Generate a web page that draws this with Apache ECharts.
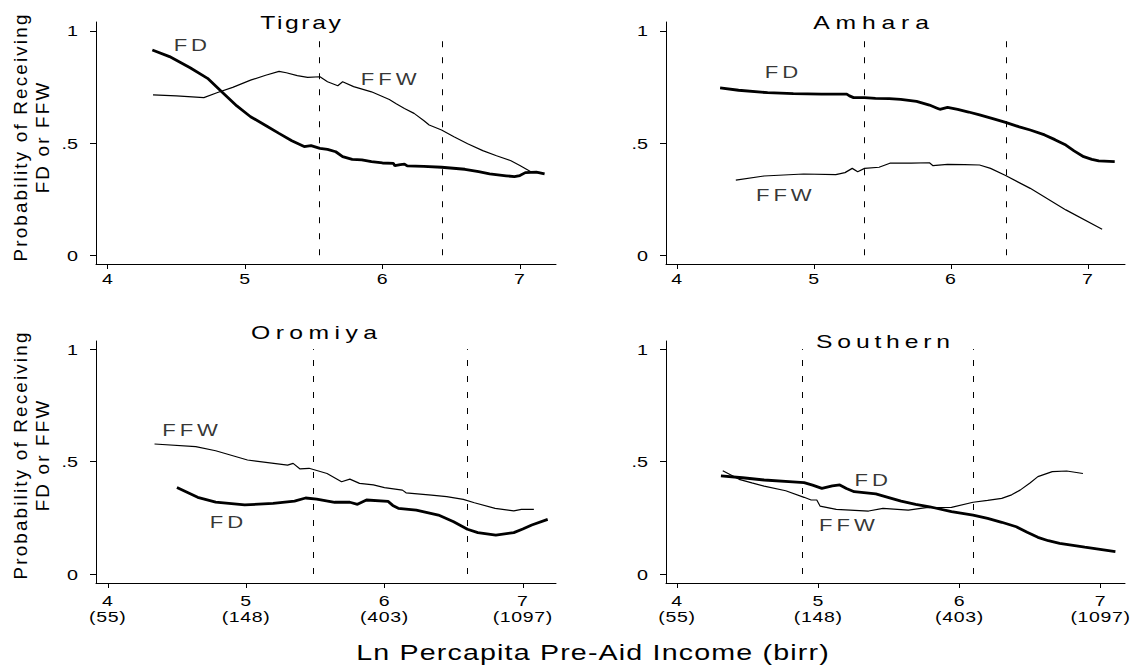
<!DOCTYPE html>
<html>
<head>
<meta charset="utf-8">
<script src="https://cdn.jsdelivr.net/npm/echarts@6.0.0/dist/echarts.min.js"></script>
<style>
html,body{margin:0;padding:0;background:#fff}
#c{width:1133px;height:666px}
#c text[style*="19px"]{letter-spacing:4px}
#c text[style*="18.8px"]{letter-spacing:2.2px}
#c text[style*="22px"]{letter-spacing:0.9px}
#c text[style*="17px"]{letter-spacing:3px}
#c text[style*="15px"]{letter-spacing:0.5px}
#c text[style*="15.2px"]{letter-spacing:0px}
</style>
</head>
<body>
<div id="c"></div>
<script>
// ---------------- data ----------------
const regions = ['Tigray', 'Amhara', 'Oromiya', 'Southern'];
const xTicks = [4, 5, 6, 7];
const xTickBirr = ['(55)', '(148)', '(403)', '(1097)'];
const yTicks = [0, 0.5, 1];
const yTickText = ['0', '.5', '1'];

const tigrayFD = [[4.325,0.914],[4.45,0.885],[4.6,0.835],[4.727,0.788],[4.83,0.728],[4.94,0.665],[5.04,0.617],[5.15,0.578],[5.247,0.543],[5.34,0.51],[5.43,0.484],[5.48,0.488],[5.545,0.476],[5.6,0.472],[5.66,0.461],[5.71,0.439],[5.78,0.427],[5.85,0.425],[5.92,0.417],[6.0,0.411],[6.08,0.409],[6.09,0.399],[6.13,0.404],[6.16,0.406],[6.18,0.398],[6.3,0.396],[6.43,0.392],[6.6,0.383],[6.7,0.372],[6.78,0.362],[6.9,0.354],[6.96,0.35],[7.0,0.355],[7.04,0.368],[7.12,0.37],[7.18,0.362]];
const tigrayFFW = [[4.33,0.714],[4.5,0.71],[4.70,0.702],[4.8,0.725],[4.91,0.748],[5.04,0.780],[5.15,0.802],[5.247,0.819],[5.30,0.813],[5.38,0.80],[5.455,0.792],[5.545,0.795],[5.6,0.773],[5.675,0.755],[5.71,0.773],[5.79,0.751],[5.92,0.728],[6.05,0.694],[6.1,0.675],[6.16,0.654],[6.23,0.632],[6.3,0.6],[6.34,0.58],[6.43,0.558],[6.52,0.528],[6.62,0.497],[6.73,0.466],[6.83,0.443],[6.935,0.421],[7.0,0.4],[7.08,0.372],[7.17,0.365]];
const amharaFD = [[4.315,0.746],[4.45,0.735],[4.662,0.724],[4.85,0.72],[5.056,0.718],[5.24,0.718],[5.26,0.71],[5.29,0.702],[5.37,0.702],[5.45,0.699],[5.55,0.698],[5.634,0.694],[5.75,0.685],[5.844,0.669],[5.9,0.655],[5.92,0.65],[5.976,0.659],[6.05,0.65],[6.13,0.638],[6.21,0.625],[6.30,0.61],[6.40,0.592],[6.50,0.572],[6.58,0.558],[6.685,0.536],[6.76,0.515],[6.84,0.491],[6.9,0.465],[6.97,0.439],[7.03,0.427],[7.08,0.42],[7.197,0.417]];
const amharaFFW = [[4.43,0.335],[4.635,0.353],[4.925,0.362],[5.16,0.359],[5.227,0.368],[5.28,0.387],[5.32,0.372],[5.37,0.387],[5.476,0.392],[5.555,0.41],[5.71,0.41],[5.844,0.412],[5.87,0.399],[5.976,0.405],[6.1,0.404],[6.21,0.402],[6.29,0.387],[6.40,0.355],[6.58,0.298],[6.84,0.202],[7.105,0.116]];
const oromiyaFD = [[4.5,0.385],[4.65,0.341],[4.78,0.32],[4.99,0.307],[5.195,0.314],[5.35,0.324],[5.43,0.338],[5.51,0.333],[5.64,0.319],[5.75,0.319],[5.805,0.31],[5.87,0.329],[6.026,0.323],[6.06,0.305],[6.1,0.292],[6.23,0.284],[6.39,0.262],[6.5,0.232],[6.6,0.199],[6.675,0.184],[6.805,0.173],[6.935,0.184],[7.0,0.2],[7.065,0.218],[7.18,0.243]];
const oromiyaFFW = [[4.338,0.578],[4.636,0.566],[4.78,0.548],[5.01,0.507],[5.30,0.484],[5.34,0.492],[5.39,0.467],[5.455,0.470],[5.585,0.447],[5.69,0.41],[5.75,0.422],[5.82,0.403],[5.92,0.396],[6.0,0.384],[6.13,0.373],[6.156,0.361],[6.34,0.351],[6.45,0.344],[6.57,0.332],[6.65,0.317],[6.8,0.292],[6.935,0.281],[6.99,0.287],[7.08,0.287]];
const southernFD = [[4.311,0.436],[4.464,0.428],[4.617,0.418],[4.82,0.41],[4.9,0.406],[4.96,0.395],[5.026,0.381],[5.1,0.392],[5.153,0.396],[5.2,0.38],[5.255,0.366],[5.408,0.356],[5.5,0.34],[5.587,0.324],[5.69,0.31],[5.79,0.299],[5.944,0.277],[6.097,0.262],[6.2,0.247],[6.3,0.23],[6.403,0.21],[6.48,0.186],[6.556,0.163],[6.63,0.148],[6.71,0.136],[6.888,0.119],[7.105,0.099]];
const southernFFW = [[4.324,0.459],[4.44,0.421],[4.53,0.405],[4.617,0.391],[4.77,0.37],[4.9,0.341],[4.95,0.329],[4.99,0.329],[5.013,0.302],[5.128,0.287],[5.357,0.28],[5.459,0.292],[5.638,0.284],[5.765,0.295],[5.944,0.296],[6.097,0.319],[6.2,0.327],[6.3,0.336],[6.37,0.352],[6.43,0.373],[6.5,0.405],[6.556,0.433],[6.658,0.455],[6.76,0.458],[6.875,0.447]];

// cut-off (dashed) lines: x positions and top value
const tigrayCut = [5.538, 6.432];
const amharaCut = [5.371, 6.403];
const oromiyaCut = [5.485, 6.595];
const southernCut = [4.885, 6.10];
const cutTop = [0.965, 0.96, 1.0, 1.0];

// in-plot labels [text, x, y]
const tigrayLabels = [['FD', 4.601, 0.934], ['FFW', 6.045, 0.782]];
const amharaLabels = [['FD', 4.763, 0.816], ['FFW', 4.78, 0.268]];
const oromiyaLabels = [['FFW', 4.595, 0.64], ['FD', 4.858, 0.230]];
const southernLabels = [['FD', 5.375, 0.4156], ['FFW', 5.203, 0.2156]];

// axis ranges per panel
const xRanges = [[3.915, 7.263], [3.92, 7.272], [3.915, 7.24], [3.922, 7.173]];
const yRangeTop = [-0.039, 1.039];
const yRangeBottom = [-0.04, 1.036];

// ---------------- layout / style ----------------
const FONT = '"Liberation Sans", Arial, Helvetica, sans-serif';
const STRETCH = 1.3;
const grids = [
  {left: 96, top: 22, width: 460, height: 242},
  {left: 666, top: 22, width: 459, height: 242},
  {left: 96, top: 341, width: 460, height: 242},
  {left: 666, top: 341, width: 459, height: 242}
];
const titlePos = [[300.5, 22], [871, 22], [314, 332], [883, 341]];
const titleSpacing = {Tigray: 2, Amhara: 4.5, Oromiya: 4.2, Southern: 3.7};
const noStretch = {'Probability of Receiving': 1, 'FD or FFW': 1};

const fdData = [tigrayFD, amharaFD, oromiyaFD, southernFD];
const ffwData = [tigrayFFW, amharaFFW, oromiyaFFW, southernFFW];
const cuts = [tigrayCut, amharaCut, oromiyaCut, southernCut];
const labelsAll = [tigrayLabels, amharaLabels, oromiyaLabels, southernLabels];

const xAxes = [], yAxes = [], series = [];
for (let i = 0; i < 4; i++) {
  const bottom = i >= 2;
  const yr = bottom ? yRangeBottom : yRangeTop;
  xAxes.push({
    type: 'value', gridIndex: i, min: xRanges[i][0], max: xRanges[i][1],
    splitLine: {show: false},
    axisLine: {show: true, onZero: false, lineStyle: {color: '#000', width: 1}},
    axisTick: {show: true, customValues: xTicks, length: 5, lineStyle: {color: '#000', width: 1}},
    axisLabel: {
      show: true, customValues: xTicks, color: '#000', fontSize: 15, fontFamily: FONT,
      lineHeight: 16, margin: bottom ? 9 : 6,
      formatter: function (v) {
        const k = xTicks.indexOf(Math.round(v));
        return bottom ? (xTicks[k] + '\n' + xTickBirr[k]) : String(xTicks[k]);
      }
    }
  });
  yAxes.push({
    type: 'value', gridIndex: i, min: yr[0], max: yr[1],
    splitLine: {show: false},
    axisLine: {show: true, onZero: false, lineStyle: {color: '#000', width: 1}},
    axisTick: {show: true, customValues: yTicks, length: 6, lineStyle: {color: '#000', width: 1}},
    axisLabel: {
      show: true, customValues: yTicks, color: '#000', fontSize: 15.2, fontFamily: FONT, margin: 18,
      formatter: function (v) {
        let k = 0;
        yTicks.forEach(function (t, j) { if (Math.abs(t - v) < 1e-6) k = j; });
        return yTickText[k];
      }
    }
  });
  series.push({
    type: 'line', xAxisIndex: i, yAxisIndex: i, data: fdData[i],
    symbol: 'none', showSymbol: false, smooth: false, silent: true,
    lineStyle: {color: '#000', width: 2.8}, z: 3,
    markLine: {
      silent: true, symbol: ['none', 'none'], label: {show: false},
      lineStyle: {color: '#000', width: 1, type: [6, 10]},
      data: cuts[i].map(function (c) { return [{coord: [c, 0]}, {coord: [c, cutTop[i]]}]; })
    }
  });
  series.push({
    type: 'line', xAxisIndex: i, yAxisIndex: i, data: ffwData[i],
    symbol: 'none', showSymbol: false, smooth: false, silent: true,
    lineStyle: {color: '#000', width: 1.2}, z: 3
  });
  series.push({
    type: 'scatter', xAxisIndex: i, yAxisIndex: i, silent: true,
    symbolSize: 1, itemStyle: {color: 'rgba(0,0,0,0)'},
    data: labelsAll[i].map(function (l) { return {name: l[0], value: [l[1], l[2]]}; }),
    label: {show: true, position: 'inside', formatter: '{b}', color: '#000',
            fontSize: 17, fontFamily: FONT, offset: [2, 0]},
    z: 4
  });
}

const graphics = [];
regions.forEach(function (r, i) {
  graphics.push({
    type: 'text', x: titlePos[i][0] + titleSpacing[r] * STRETCH / 2, y: titlePos[i][1], silent: true,
    style: {text: r, fill: '#000', fontSize: 19, fontFamily: FONT,
            align: 'center', verticalAlign: 'middle', textAlign: 'center', textVerticalAlign: 'middle'}
  });
});
[137, 455].forEach(function (yc) {
  graphics.push({
    type: 'text', x: 31, y: yc, rotation: Math.PI / 2, silent: true,
    style: {text: 'Probability of Receiving\nFD or FFW', fill: '#000', fontSize: 18.8, lineHeight: 22,
            fontFamily: FONT, align: 'center', verticalAlign: 'middle',
            textAlign: 'center', textVerticalAlign: 'middle'}
  });
});
graphics.push({
  type: 'text', x: 593, y: 652, silent: true,
  style: {text: 'Ln Percapita Pre-Aid Income (birr)', fill: '#000', fontSize: 22, fontFamily: FONT,
          align: 'center', verticalAlign: 'middle', textAlign: 'center', textVerticalAlign: 'middle'}
});

const dom = document.getElementById('c');
const chart = echarts.init(dom, null, {renderer: 'svg'});
chart.setOption({
  backgroundColor: '#fff',
  animation: false,
  grid: grids,
  xAxis: xAxes,
  yAxis: yAxes,
  series: series,
  graphic: graphics
});

// widen glyphs horizontally (the reference's lettering is horizontally stretched)
function refine() {
  dom.querySelectorAll('text').forEach(function (t) {
    if (t.getAttribute('data-wide')) return;
    const txt = t.textContent;
    const sp = titleSpacing[txt];
    if (sp != null) t.style.letterSpacing = sp + 'px';
    if (noStretch[txt]) { t.setAttribute('data-wide', '1'); return; }
    let len = 0;
    try { len = t.getComputedTextLength(); } catch (e) { len = 0; }
    if (len > 0) {
      t.setAttribute('textLength', (len * STRETCH).toFixed(2));
      t.setAttribute('lengthAdjust', 'spacingAndGlyphs');
      t.setAttribute('data-wide', '1');
    }
  });
}
chart.on('finished', refine);
setTimeout(refine, 30);
refine();
</script>
</body>
</html>
